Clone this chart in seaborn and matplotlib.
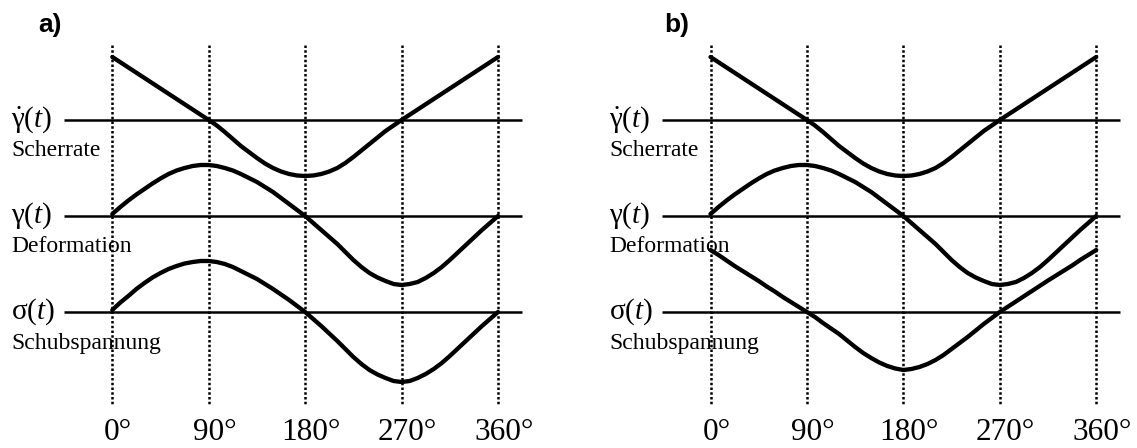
import numpy as np
import pandas as pd
import matplotlib
matplotlib.use("Agg")
import matplotlib.pyplot as plt
import seaborn as sns

# ---------------- data ----------------
phase_deg = [0, 7.5, 15, 22.5, 30, 37.5, 45, 52.5, 60, 67.5, 75, 82.5, 90,
             97.5, 105, 112.5, 120, 127.5, 135, 142.5, 150, 157.5, 165, 172.5, 180,
             187.5, 195, 202.5, 210, 217.5, 225, 232.5, 240, 247.5, 255, 262.5, 270,
             277.5, 285, 292.5, 300, 307.5, 315, 322.5, 330, 337.5, 345, 352.5, 360]

# panel a)
a_shear_rate = [63, 57.75, 52.5, 47.25, 42, 36.75, 31.5, 26.25, 21, 15.75, 10.5, 5.25, 0,
                -5.5, -12, -19, -26, -32, -38, -43.5, -48, -51.5, -54, -55.5, -56,
                -55.5, -54, -51.5, -48, -43, -37, -30.5, -24, -17.5, -11, -5.5, 0,
                5.25, 10.5, 15.75, 21, 26.25, 31.5, 36.75, 42, 47.25, 52.5, 57.75, 63]
a_deformation = [2, 9, 15.5, 21.5, 27, 32.5, 37.5, 42, 45.5, 48, 50, 51, 51,
                 50, 48, 45.5, 42, 38, 34, 29, 24, 18, 12, 6, 0,
                 -7, -14, -21, -28, -36, -44, -51, -57, -61.5, -65, -68, -69,
                 -68, -66, -62, -57, -51, -44, -36.5, -29, -21.5, -14, -7, 0]
a_stress = [2, 9.5, 16, 23, 29, 34.5, 39, 43, 46, 48.5, 50, 51, 51,
            50, 48, 45, 41, 37, 33, 28, 23, 17.5, 12, 6, 0,
            -7, -14, -21.5, -29, -37, -45, -52, -58, -62.5, -66, -69, -70,
            -69, -66, -62, -57, -51, -44, -36.5, -29, -21.5, -14, -7, 0]

# panel b)
b_shear_rate = [63, 57.75, 52.5, 47.25, 42, 36.75, 31.5, 26.25, 21, 15.75, 10.5, 5.25, 0,
                -5.5, -12, -19, -26, -32, -38, -43.5, -48, -51.5, -54, -55.5, -56,
                -55.5, -54, -51.5, -48, -43, -37, -30.5, -24, -17.5, -11, -5.5, 0,
                5.25, 10.5, 15.75, 21, 26.25, 31.5, 36.75, 42, 47.25, 52.5, 57.75, 63]
b_deformation = [2, 9, 15.5, 21.5, 27, 32.5, 37.5, 42, 45.5, 48, 50, 51, 51,
                 50, 48, 45.5, 42, 38, 34, 29, 24, 18, 12, 6, 0,
                 -7, -14, -21, -28, -36, -44, -51, -57, -61.5, -65, -68, -69,
                 -68, -66, -62, -57, -51, -44, -36.5, -29, -21.5, -14, -7, 0]
b_stress = [62, 57, 51.5, 46, 41, 36, 31, 25.5, 20.5, 15, 10, 5, 0,
            -5, -11, -16.5, -22, -28.5, -35, -41, -46, -50.5, -54, -56.5, -58,
            -57, -55, -52, -48, -43, -37, -31, -25, -18.5, -12, -6, 0,
            5.25, 10.5, 15.75, 21, 26.25, 31.5, 36.5, 41.5, 46.5, 52, 57, 62]

tick_degrees = [0, 90, 180, 270, 360]
tick_labels = ["0°", "90°", "180°", "270°", "360°"]
row_symbols = [r"$\dot{\mathrm{\gamma}}(t)$", r"$\mathrm{\gamma}(t)$", r"$\mathrm{\sigma}(t)$"]
row_names = ["Scherrate", "Deformation", "Schubspannung"]
panel_titles = ["a)", "b)"]

# ---------------- layout ----------------
W, H = 1137, 448
sns.set_theme(style="white")
plt.rcParams["font.family"] = ["Liberation Serif", "DejaVu Serif"]
plt.rcParams["mathtext.fontset"] = "custom"
plt.rcParams["mathtext.rm"] = "Liberation Serif"
plt.rcParams["mathtext.it"] = "Liberation Serif:italic"
plt.rcParams["mathtext.bf"] = "Liberation Serif:bold"

fig = plt.figure(figsize=(W / 100, H / 100), dpi=100)
fig.patch.set_facecolor("white")

px_per_deg = 1.0715
row_base = [120, 216, 312]          # pixel rows of the three baselines
panels = [
    dict(left=0, width=568, x0=112.3, title_x=50,
         series=[a_shear_rate, a_deformation, a_stress]),
    dict(left=568, width=569, x0=710.5, title_x=677,
         series=[b_shear_rate, b_deformation, b_stress]),
]

for p, title in zip(panels, panel_titles):
    ax = fig.add_axes([p["left"] / W, 0, p["width"] / W, 1])
    ax.set_xlim((p["left"] - p["x0"]) / px_per_deg,
                (p["left"] + p["width"] - p["x0"]) / px_per_deg)
    ax.set_ylim(H, 0)
    ax.axis("off")

    # dotted vertical guide lines
    ax.vlines(tick_degrees, 45, 405, colors="black", linewidth=1.8,
              linestyles=(0, (1, 0.9)))

    # baselines
    for yb in row_base:
        ax.hlines(yb, -45, 382, colors="black", linewidth=1.8)

    # curves
    for yb, vals in zip(row_base, p["series"]):
        df = pd.DataFrame({"deg": phase_deg,
                           "y": [yb - v for v in vals]})
        sns.lineplot(data=df, x="deg", y="y", ax=ax, color="black",
                     linewidth=3.1, estimator=None, sort=False)
    ax.set_xlabel("")
    ax.set_ylabel("")

    # row labels
    lab_x = -95.0
    for yb, sym, name in zip(row_base, row_symbols, row_names):
        ax.text(lab_x, yb + 7, sym, fontsize=21, ha="left", va="baseline",
                color="black")
        ax.text(lab_x + 1, yb + 36.5, name, fontsize=17, ha="left",
                va="baseline", color="black")

    # tick labels (kept fully inside the canvas)
    for d, t in zip(tick_degrees, tick_labels):
        ax.text(d + 5.5, 446.5, t, fontsize=22.5, ha="center", va="bottom",
                color="black")

    # panel title
    ax.text((p["title_x"] - p["x0"]) / px_per_deg, 25, title,
            fontsize=19, fontweight="bold", family="Liberation Sans",
            ha="center", va="center", color="black")

fig.savefig("out.png", dpi=100, facecolor="white")
